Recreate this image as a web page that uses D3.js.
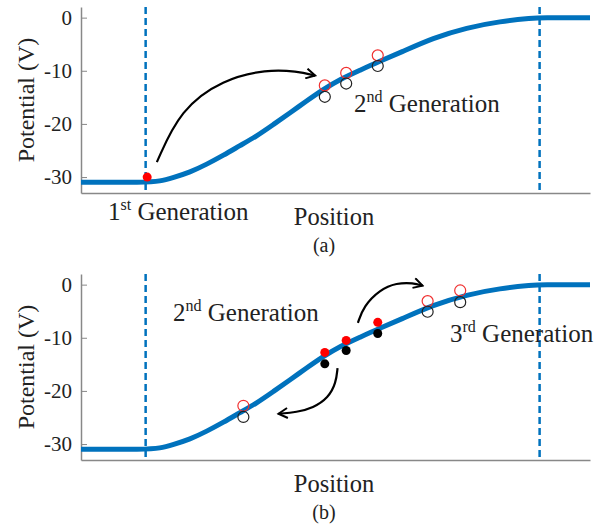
<!DOCTYPE html>
<html>
<head>
<meta charset="utf-8">
<script src="https://cdn.jsdelivr.net/npm/d3@7"></script>
<style>
  body { margin: 0; background: #fff; }
  svg text { font-family: "Liberation Serif", "Times New Roman", Times, "DejaVu Serif", serif !important; fill: #222; }
</style>
</head>
<body>
<div id="chart"></div>
<script>
// potential profile along position
const curvePos = [0, 12.6, 15.5, 18.1, 21.4, 24.7, 28.0, 31.2, 34.5, 37.8, 41.1, 44.3, 47.6, 50.9, 54.8, 58.7, 62.7, 69.2, 75.8, 82.3, 88.8, 90.2, 100];
const curveVal = [-31, -31, -30.8, -30.1, -29.1, -27.6, -25.9, -24.1, -22.3, -20.1, -17.9, -15.7, -13.5, -11.6, -9.9, -8.2, -6.6, -3.8, -1.9, -0.7, -0.1, 0, 0];

const boundaries = [12.7, 90.1];
const yTicks = [0, -10, -20, -30];

// panel (a)
const aFirstPos = [13.0];
const aFirstVal = [-30];
const aSecondPos = [47.9, 52.1, 58.3];
const aSecondRed = [-12.75, -10.4, -7.1];
const aSecondBlack = [-14.9, -12.4, -9.1];
const aArrow = [[14.9, -27.2], [19.5, -17.25], [27.9, -11.6], [36.5, -9.75], [42.4, -10.1], [46.0, -10.9]];

// panel (b)
const bSecondPos = [47.9, 52.1, 58.3];
const bSecondRed = [-12.75, -10.5, -7.1];
const bSecondBlack = [-14.9, -12.4, -9.2];
const bThirdPos = [31.9, 68.1, 74.5];
const bThirdRed = [-22.8, -3.1, -1.1];
const bThirdBlack = [-24.9, -5.1, -3.3];
const bArrowUp = [[54.4, -7.2], [55.5, -4.1], [58.7, -0.94], [62.0, 0.32], [65.3, 0.32], [67.1, -0.19]];
const bArrowDown = [[50.4, -15.7], [50.1, -18.5], [48.6, -21.3], [45.6, -23.2], [42.4, -24.0], [38.8, -24.3]];

const width = 603, height = 527;
const blue = "#0072BD";
const serif = "'Liberation Serif', 'Times New Roman', Times, 'DejaVu Serif', serif";

const svg = d3.select("#chart").append("svg")
  .attr("width", width).attr("height", height)
  .attr("viewBox", [0, 0, width, height]);

svg.append("defs").append("marker")
  .attr("id", "head")
  .attr("viewBox", "0 -6 12 12")
  .attr("refX", 10).attr("refY", 0)
  .attr("markerWidth", 12).attr("markerHeight", 12)
  .attr("markerUnits", "userSpaceOnUse")
  .attr("orient", "auto")
  .append("path")
  .attr("d", "M1,-5L10,0L1,5")
  .attr("fill", "none").attr("stroke", "#000").attr("stroke-width", 2);

const x = d3.scaleLinear().domain([0, 100]).range([81, 590]);

function panel(top, opts) {
  const y = d3.scaleLinear().domain([-33, 2]).range([top + 186, top]);
  const g = svg.append("g").attr("font-family", serif);

  // axes
  g.append("g")
    .attr("transform", `translate(0,${y(-33)})`)
    .call(d3.axisBottom(x).tickValues([]).tickSizeOuter(0))
    .call(g => g.select(".domain").attr("stroke", "#888").attr("stroke-width", 1.5));

  g.append("g")
    .attr("transform", `translate(${x(0)},0)`)
    .call(d3.axisLeft(y).tickValues(yTicks).tickFormat(d => String(d))
      .tickSize(-6).tickPadding(9).tickSizeOuter(0))
    .attr("font-family", serif)
    .call(g => g.select(".domain").attr("stroke", "#888").attr("stroke-width", 1.5))
    .call(g => g.selectAll(".tick line").attr("stroke", "#888"))
    .call(g => g.selectAll(".tick text")
      .attr("font-size", 21)
      .attr("fill", "#333"));

  g.append("text")
    .attr("transform", `translate(34,${y(-15.5)}) rotate(-90)`)
    .attr("text-anchor", "middle")
    .attr("font-size", 24)
    .text("Potential (V)");

  g.append("text")
    .attr("x", 334).attr("y", top + 218)
    .attr("text-anchor", "middle")
    .attr("font-size", 24.5)
    .attr("fill", "#333")
    .text("Position");

  g.append("text")
    .attr("x", 324).attr("y", top + 245)
    .attr("text-anchor", "middle")
    .attr("font-size", 20)
    .text(opts.tag);

  // boundaries
  g.selectAll(".bound")
    .data(boundaries)
    .join("line")
    .attr("x1", d => x(d)).attr("x2", d => x(d))
    .attr("y1", y(2)).attr("y2", y(-33))
    .attr("stroke", blue)
    .attr("stroke-width", 2.5)
    .attr("stroke-dasharray", "7,4");

  // potential curve
  const line = d3.line()
    .x((d, i) => x(curvePos[i]))
    .y(d => y(d))
    .curve(d3.curveBasis);

  g.append("path")
    .attr("fill", "none")
    .attr("stroke", blue)
    .attr("stroke-width", 5)
    .attr("d", line(curveVal));

  // points
  opts.points.forEach(p => {
    g.append("g")
      .selectAll("circle")
      .data(p.pos)
      .join("circle")
      .attr("cx", d => x(d))
      .attr("cy", (d, i) => y(p.val[i]))
      .attr("r", p.filled ? 4.5 : 5.5)
      .attr("fill", p.filled ? p.color : "none")
      .attr("stroke", p.filled ? "none" : p.color)
      .attr("stroke-width", 1.2);
  });

  // arrows
  const arrowLine = d3.line()
    .x(d => x(d[0]))
    .y(d => y(d[1]))
    .curve(d3.curveBasis);

  opts.arrows.forEach(a => {
    g.append("path")
      .attr("fill", "none")
      .attr("stroke", "#000")
      .attr("stroke-width", 2.2)
      .attr("marker-end", "url(#head)")
      .attr("d", arrowLine(a));
  });

  // labels
  opts.labels.forEach(l => {
    const t = g.append("text")
      .attr("x", l.x).attr("y", top + l.dy)
      .attr("font-size", 25);
    t.append("tspan").text(l.num);
    t.append("tspan").attr("font-size", 16).attr("dy", -10).text(l.sup);
    t.append("tspan").attr("dy", 10).text(" Generation");
  });
}

panel(7, {
  tag: "(a)",
  points: [
    { pos: aFirstPos, val: aFirstVal, color: "#f00", filled: true },
    { pos: aSecondPos, val: aSecondRed, color: "#f03030", filled: false },
    { pos: aSecondPos, val: aSecondBlack, color: "#222", filled: false }
  ],
  arrows: [aArrow],
  labels: [
    { x: 108, dy: 213, num: "1", sup: "st" },
    { x: 354, dy: 105, num: "2", sup: "nd" }
  ]
});

panel(274, {
  tag: "(b)",
  points: [
    { pos: bSecondPos, val: bSecondRed, color: "#f00", filled: true },
    { pos: bSecondPos, val: bSecondBlack, color: "#000", filled: true },
    { pos: bThirdPos, val: bThirdRed, color: "#f03030", filled: false },
    { pos: bThirdPos, val: bThirdBlack, color: "#222", filled: false }
  ],
  arrows: [bArrowUp, bArrowDown],
  labels: [
    { x: 173, dy: 47, num: "2", sup: "nd" },
    { x: 450, dy: 68, num: "3", sup: "rd" }
  ]
});
</script>
</body>
</html>
